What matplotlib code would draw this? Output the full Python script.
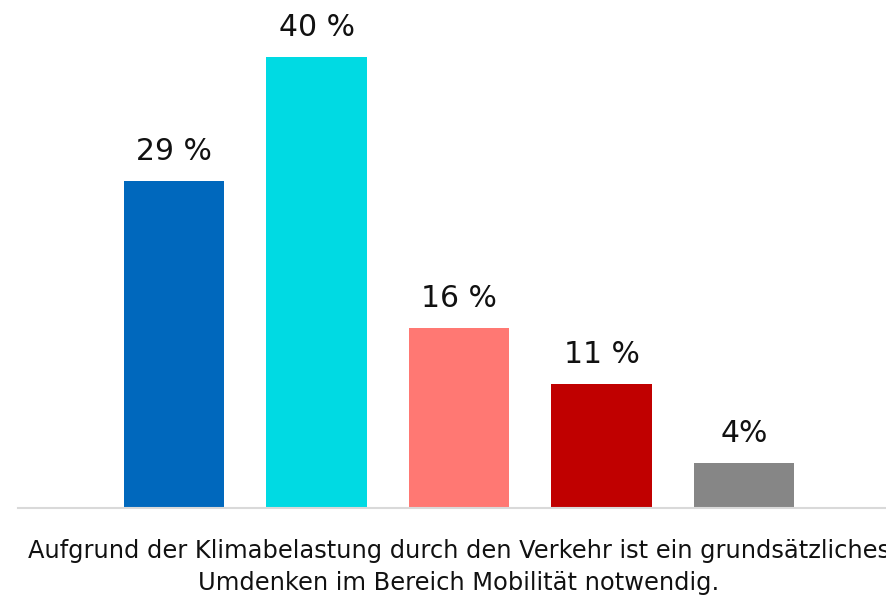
import matplotlib
matplotlib.use("Agg")
import matplotlib.pyplot as plt

# values
series = ["A", "B", "C", "D", "E"]
values = [29, 40, 16, 11, 4]
labels = ["29 %", "40 %", "16 %", "11 %", "4%"]
colors = ["#0068BD", "#00DAE3", "#FF7873", "#C00000", "#868686"]
category_lines = ["Aufgrund der Klimabelastung durch den Verkehr ist ein grundsätzliches",
                  "Umdenken im Bereich Mobilität notwendig."]

W, H = 887, 608
fig = plt.figure(figsize=(W / 100, H / 100), dpi=100)

# axes spans from x=18px to ~900px (chart is cropped on the right)
base_px = 508
ax = fig.add_axes([18 / W, (H - base_px) / H, 882 / W, base_px / H])
ax.set_xlim(-1.095, 5.095)
ax.set_ylim(0, base_px / 11.28)

pos = list(range(len(values)))
bars = ax.bar(pos, values, width=0.702, color=colors, clip_on=False)
for b, lab in zip(bars, labels):
    ax.annotate(lab, (b.get_x() + b.get_width() / 2, b.get_height()),
                xytext=(0, 15), textcoords="offset points",
                ha="center", va="baseline", fontsize=21.5, color="#111111")

for s in ["top", "right", "left"]:
    ax.spines[s].set_visible(False)
ax.spines["bottom"].set_color("#D9D9D9")
ax.spines["bottom"].set_linewidth(1.5)
ax.spines["bottom"].set_clip_on(False)
ax.set_yticks([])
ax.set_xticks([])

# category label, two lines
for line, y_px in zip(category_lines, [558, 590]):
    fig.text(459 / W, 1 - y_px / H, line, ha="center", va="baseline",
             fontsize=17.4, color="#111111")

fig.savefig("out.png", dpi=100)
